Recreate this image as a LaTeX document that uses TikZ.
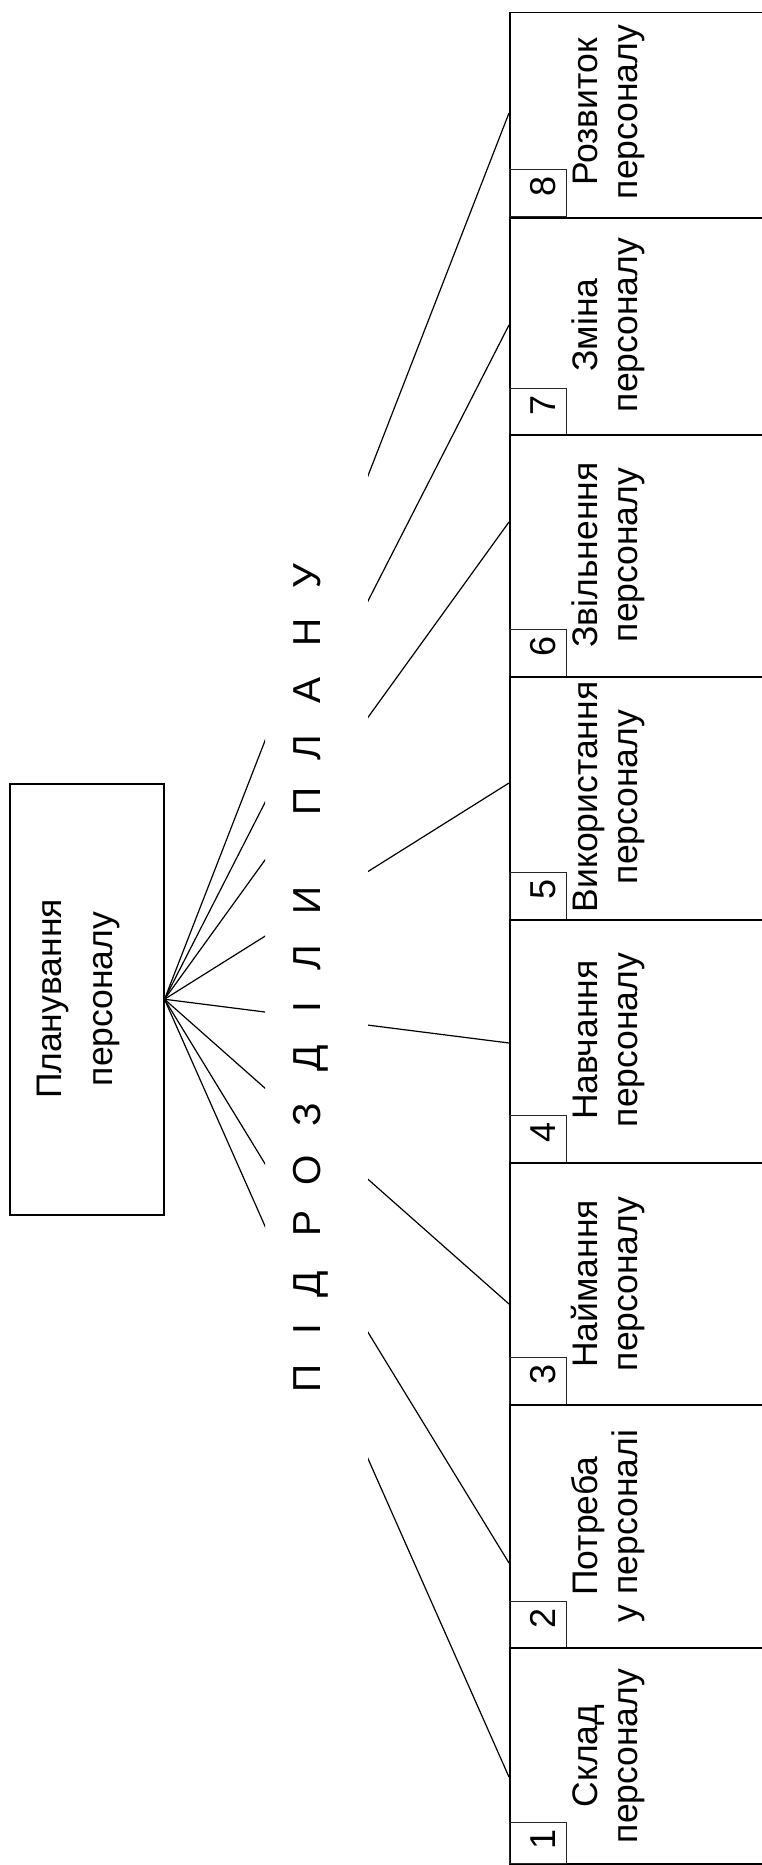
\documentclass[tikz,border=0pt]{standalone}
\usepackage{fontspec}
\setmainfont{Liberation Sans}
\begin{document}
\begin{tikzpicture}[x=1pt,y=-1pt,
  bigbox/.style={draw=black,line width=1.5pt,inner sep=0pt,anchor=north west},
  numbox/.style={draw=black!85,line width=1pt,inner sep=0pt,anchor=north west,minimum width=57pt},
  conn/.style={line width=1.2pt},
  lbl/.style={font=\fontsize{35.5}{35.5}\selectfont,rotate=90,anchor=base,inner sep=0pt},
  num/.style={font=\fontsize{36}{36}\selectfont,rotate=90,anchor=base,inner sep=0pt},
  spaced/.style={font=\fontsize{39}{39}\selectfont,rotate=90,anchor=base,inner sep=0pt}
]
\useasboundingbox (0,0) rectangle (762,1865);
\clip (0,0) rectangle (762,1865);

% main box
\node[bigbox,minimum width=154pt,minimum height=431pt] (plan) at (9,783) {};
\node[lbl] (plana) at (61,999) {Планування};
\node[lbl] (planb) at (112,999) {персоналу};

% right boxes: name/top/height/textcentre/line1/line2/numtop/numheight/attach
\foreach \n/\t/\h/\c/\la/\lb/\nt/\nh/\a in {
  8/12/205/112/Розвиток/персоналу/169/47/113,
  7/217/217/325/Зміна/персоналу/388/46/325,
  6/434/242/555/Звільнення/персоналу/629/47/522,
  5/676/243/797/Використання/персоналу/872/47/783,
  4/919/243/1040/Навчання/персоналу/1115/47/1043,
  3/1162/242/1284/Наймання/персоналу/1357/47/1304,
  2/1404/243/1526/Потреба/у персоналі/1601/46/1563,
  1/1647/216/1756/Склад/персоналу/1822/41/1777}{
  \node[bigbox,minimum width=270pt,minimum height=\h pt] (b\n) at (509,\t) {};
  \node[numbox,minimum height=\nh pt] (n\n) at (509,\nt) {};
  \node[num] (d\n) at (555,\nt+17) {\n};
  \node[lbl] (ta\n) at (597,\c) {\la};
  \node[lbl] (tb\n) at (637,\c) {\lb};
  \coordinate (a\n) at (509,\a);
}

% connectors, interrupted by the lettering band
\begin{scope}
  \clip (0,0) rectangle (265,1865) (368,0) rectangle (762,1865);
  \foreach \k in {1,...,8} \draw[conn] (plan.east) -- (a\k);
\end{scope}

% spaced lettering
\foreach \l/\y [count=\i] in {П/1378,І/1329,Д/1284,Р/1223,О/1170,З/1115,Д/1058,І/1007,Л/958,И/900,П/801,Л/748,А/690,Н/632,У/576}
  \node[spaced] (s\i) at (320,\y) {\l};
\end{tikzpicture}
\end{document}
